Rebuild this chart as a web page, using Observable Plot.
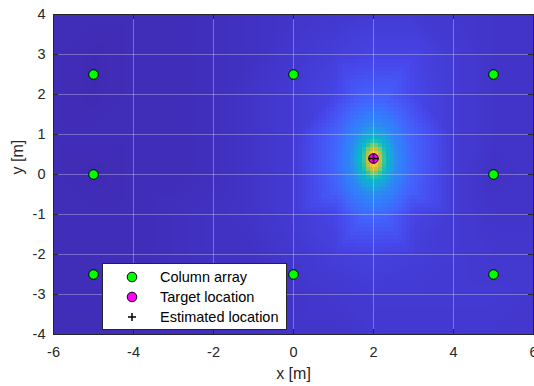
<!DOCTYPE html>
<html>
<head>
<meta charset="utf-8">
<script src="https://cdn.jsdelivr.net/npm/d3@7"></script>
<script src="https://cdn.jsdelivr.net/npm/@observablehq/plot@0.6"></script>
<style>
  body { margin: 0; background: #fff; }
  #chart { position: relative; width: 534px; height: 386px; font-family: "Liberation Sans", Arial, Helvetica, sans-serif; }
  #chart svg.legend { position: absolute; left: 102px; top: 263px; }
</style>
</head>
<body>
<div id="chart"></div>
<script>
// Column array element positions (m)
const arrayX = [-5, 0, 5, -5, 5, -5, 0, 5];
const arrayY = [2.5, 2.5, 2.5, 0, 0, -2.5, -2.5, -2.5];

// True and estimated source positions (m)
const targetX = [2];
const targetY = [0.4];
const estX = [2];
const estY = [0.4];

// Normalised localisation map on a 1 m lattice (rows: y = 4 .. -4, columns: x = -6 .. 6)
const mapX = [-6, -5, -4, -3, -2, -1, 0, 1, 2, 3, 4, 5, 6];
const mapY = [4, 3, 2, 1, 0, -1, -2, -3, -4];
const mapV = [
  [0.03, 0.03, 0.03, 0.03, 0.04, 0.05, 0.06, 0.07, 0.08, 0.08, 0.07, 0.06, 0.06],
  [0.03, 0.02, 0.03, 0.03, 0.04, 0.05, 0.07, 0.09, 0.11, 0.11, 0.08, 0.06, 0.06],
  [0.03, 0.02, 0.03, 0.03, 0.04, 0.06, 0.08, 0.11, 0.14, 0.12, 0.08, 0.06, 0.06],
  [0.03, 0.03, 0.03, 0.03, 0.04, 0.06, 0.08, 0.12, 0.20, 0.12, 0.08, 0.06, 0.06],
  [0.03, 0.02, 0.03, 0.03, 0.04, 0.06, 0.08, 0.12, 0.22, 0.12, 0.08, 0.05, 0.06],
  [0.03, 0.03, 0.03, 0.04, 0.05, 0.06, 0.08, 0.11, 0.14, 0.11, 0.08, 0.06, 0.06],
  [0.03, 0.03, 0.03, 0.04, 0.05, 0.05, 0.07, 0.09, 0.10, 0.09, 0.08, 0.07, 0.07],
  [0.03, 0.03, 0.03, 0.04, 0.04, 0.05, 0.06, 0.07, 0.08, 0.08, 0.08, 0.08, 0.07],
  [0.03, 0.03, 0.03, 0.03, 0.04, 0.05, 0.06, 0.06, 0.07, 0.07, 0.07, 0.07, 0.07]
];

// Contours of the main lobe around the estimate: level, half-width in x, half-height in y (m)
const peakMax = 1.0;
const peakLevel = [0.88, 0.72, 0.56, 0.42, 0.28, 0.19];
const peakHalfW = [0.10, 0.18, 0.26, 0.38, 0.60, 1.00];
const peakHalfH = [0.16, 0.29, 0.42, 0.58, 0.92, 1.50];

// Axes
const xTicks = [-6, -4, -2, 0, 2, 4, 6];
const yTicks = [-4, -3, -2, -1, 0, 1, 2, 3, 4];
const xGrid = [-4, -2, 0, 2, 4];
const yGrid = [-3, -2, -1, 0, 1, 2, 3];

// Parula colour map stops
const parulaStops = [
  "rgb(62,38,168)", "rgb(66,53,202)", "rgb(71,72,236)", "rgb(68,98,252)",
  "rgb(50,125,252)", "rgb(40,145,236)", "rgb(26,165,221)", "rgb(10,180,205)",
  "rgb(20,190,185)", "rgb(52,198,155)", "rgb(102,204,115)", "rgb(152,200,80)",
  "rgb(196,190,60)", "rgb(232,186,60)", "rgb(253,192,55)", "rgb(245,222,40)",
  "rgb(249,251,21)"
];
const parula = d3.piecewise(d3.interpolateRgb, parulaStops);

// Scattered samples for the raster: lattice values away from the lobe, plus the lobe contours
const samples = [];
const outerW = peakHalfW[peakHalfW.length - 1];
const outerH = peakHalfH[peakHalfH.length - 1];
mapY.forEach((y, i) => mapX.forEach((x, j) => {
  const ex = (x - estX[0]) / outerW, ey = (y - estY[0]) / outerH;
  if (ex * ex + ey * ey < 1.2) return;
  samples.push({x, y, v: mapV[i][j]});
}));
samples.push({x: estX[0], y: estY[0], v: peakMax});
peakLevel.forEach((v, k) => {
  for (let a = 0; a < 24; a++) {
    const t = a * Math.PI / 12;
    samples.push({x: estX[0] + peakHalfW[k] * Math.cos(t), y: estY[0] + peakHalfH[k] * Math.sin(t), v});
  }
});

const W = 534, H = 386, mL = 53, mR = 1, mT = 14, mB = 52;
const plotW = W - mL - mR, plotH = H - mT - mB;
const axisColor = "#262626";
const fontFamily = "'Liberation Sans', Arial, Helvetica, sans-serif";

const arrayPts = arrayX.map((x, i) => ({x, y: arrayY[i]}));
const targetPts = targetX.map((x, i) => ({x, y: targetY[i]}));
const estPts = estX.map((x, i) => ({x, y: estY[i]}));

const chart = Plot.plot({
  width: W,
  height: H,
  marginLeft: mL,
  marginRight: mR,
  marginTop: mT,
  marginBottom: mB,
  style: {fontFamily, fontSize: "14.5px", color: axisColor, background: "#fff", overflow: "visible"},
  x: {domain: [-6, 6]},
  y: {domain: [-4, 4]},
  color: {type: "linear", domain: [0, 1], interpolate: parula},
  marks: [
    Plot.raster(samples, {
      x: "x", y: "y", fill: "v",
      interpolate: "barycentric",
      width: 120, height: 80,
      imageRendering: "pixelated"
    }),
    Plot.gridX(xGrid, {stroke: "#fff", strokeOpacity: 0.3}),
    Plot.gridY(yGrid, {stroke: "#fff", strokeOpacity: 0.3}),
    Plot.tickX(xTicks, {x: d => d, stroke: axisColor, insetTop: plotH - 5}),
    Plot.tickX(xTicks, {x: d => d, stroke: axisColor, insetBottom: plotH - 5}),
    Plot.tickY(yTicks, {y: d => d, stroke: axisColor, insetLeft: plotW - 5}),
    Plot.tickY(yTicks, {y: d => d, stroke: axisColor, insetRight: plotW - 5}),
    Plot.frame({stroke: axisColor}),
    Plot.axisX(xTicks, {tickSize: 0, tickPadding: 12, label: null, tickFormat: d => String(d)}),
    Plot.axisY(yTicks, {tickSize: 0, tickPadding: 8, label: null, tickFormat: d => String(d)}),
    Plot.text(["x [m]"], {text: d => d, frameAnchor: "bottom", dy: 44, fontSize: 16, fill: axisColor}),
    Plot.text(["y [m]"], {text: d => d, frameAnchor: "left", dx: -36, rotate: -90, fontSize: 16, fill: axisColor}),
    Plot.dot(arrayPts, {x: "x", y: "y", r: 4.8, fill: "#00ff00", stroke: "#000", strokeWidth: 1}),
    Plot.dot(targetPts, {x: "x", y: "y", r: 4.8, fill: "#ff00ff", stroke: "#000", strokeWidth: 1}),
    Plot.dot(estPts, {x: "x", y: "y", r: 3.3, symbol: "plus", stroke: "#000", strokeWidth: 1.5})
  ]
});

const root = document.getElementById("chart");
root.appendChild(chart);

// Legend box inside the axes
const legendItems = [
  {label: "Column array", kind: "circle", fill: "#00ff00"},
  {label: "Target location", kind: "circle", fill: "#ff00ff"},
  {label: "Estimated location", kind: "plus"}
];
const legend = d3.create("svg")
  .attr("class", "legend")
  .attr("width", 185)
  .attr("height", 67);
legend.append("rect")
  .attr("x", 0.5).attr("y", 0.5)
  .attr("width", 184).attr("height", 66)
  .attr("fill", "#fff").attr("stroke", axisColor);
const rows = legend.selectAll("g.item").data(legendItems).join("g")
  .attr("class", "item")
  .attr("transform", (d, i) => `translate(0,${14 + 20 * i})`);
rows.filter(d => d.kind === "circle").append("circle")
  .attr("cx", 30).attr("cy", 0).attr("r", 4.8)
  .attr("fill", d => d.fill).attr("stroke", "#000");
rows.filter(d => d.kind === "plus").append("path")
  .attr("d", "M26,0H34M30,-4V4")
  .attr("stroke", "#000").attr("stroke-width", 1.5);
rows.append("text")
  .attr("x", 58).attr("y", 5)
  .attr("font-family", fontFamily)
  .attr("font-size", "14.5px")
  .attr("fill", "#000")
  .text(d => d.label);
root.appendChild(legend.node());
</script>
</body>
</html>
